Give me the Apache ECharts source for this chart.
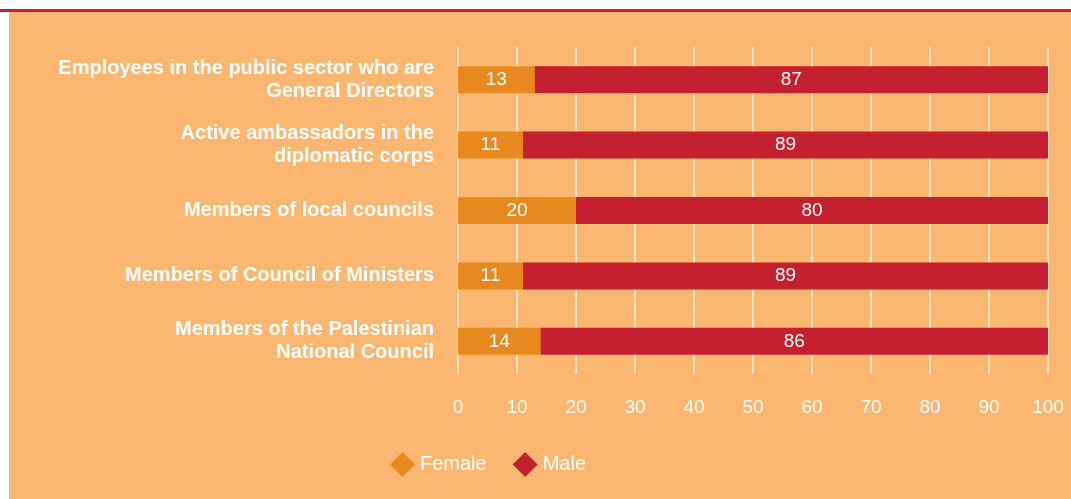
<!DOCTYPE html>
<html>
<head>
<meta charset="utf-8">
<script src="https://cdn.jsdelivr.net/npm/echarts@6/dist/echarts.min.js"></script>
<style>
    html, body { margin: 0; padding: 0; background: #ffffff; }
    #topLine { position: absolute; left: 0; top: 9px; width: 1071px; height: 3px; background: #c8202f; }
    #panel { position: absolute; left: 9px; top: 12px; width: 1062px; height: 487px; background: #fbb771; }
    #chart { position: absolute; left: 0; top: 0; width: 1071px; height: 499px; }
</style>
</head>
<body>
<div id="topLine"></div>
<div id="panel"></div>
<div id="chart"></div>
<script>
// Categories, top to bottom
const categories = [
    'Employees in the public sector who are\nGeneral Directors',
    'Active ambassadors in the\ndiplomatic corps',
    'Members of local councils',
    'Members of Council of Ministers',
    'Members of the Palestinian\nNational Council'
];
const female = [13, 11, 20, 11, 14];
const male = [87, 89, 80, 89, 86];
const xTicks = [0, 10, 20, 30, 40, 50, 60, 70, 80, 90, 100];

const fontFamily = "'Liberation Sans Narrow', 'Arial Narrow', 'Liberation Sans', sans-serif";

document.addEventListener("DOMContentLoaded", function () {
    const chart = echarts.init(document.getElementById("chart"));

    const barLabel = {
        show: true,
        position: 'inside',
        color: '#ffffff',
        fontFamily: fontFamily,
        fontSize: 19
    };

    chart.setOption({
        animation: false,
        textStyle: { fontFamily: fontFamily },
        grid: {
            left: 458,
            right: 23,
            top: 47,
            bottom: 125
        },
        legend: {
            data: ['Female', 'Male'],
            left: 385,
            top: 447,
            icon: 'diamond',
            itemWidth: 25,
            itemHeight: 25,
            itemGap: 26,
            textStyle: { color: '#ffffff', fontSize: 20, fontFamily: fontFamily }
        },
        xAxis: {
            type: 'value',
            min: xTicks[0],
            max: xTicks[xTicks.length - 1],
            interval: 10,
            axisLine: { show: false },
            axisTick: { show: false },
            axisLabel: {
                color: '#ffffff',
                fontSize: 19,
                margin: 24,
                fontFamily: fontFamily
            },
            splitLine: {
                show: true,
                lineStyle: { color: '#fff1e0', width: 1.5 }
            }
        },
        yAxis: {
            type: 'category',
            data: categories,
            inverse: true,
            axisLine: { show: false },
            axisTick: { show: false },
            axisLabel: {
                color: '#ffffff',
                fontSize: 20,
                fontWeight: 'bold',
                lineHeight: 23,
                margin: 24,
                align: 'right',
                fontFamily: fontFamily
            }
        },
        series: [
            {
                name: 'Female',
                type: 'bar',
                stack: 'total',
                barWidth: 27,
                data: female,
                itemStyle: { color: '#e8891f' },
                label: barLabel
            },
            {
                name: 'Male',
                type: 'bar',
                stack: 'total',
                barWidth: 27,
                data: male,
                itemStyle: { color: '#c4202f' },
                label: barLabel
            }
        ]
    });
});
</script>
</body>
</html>
